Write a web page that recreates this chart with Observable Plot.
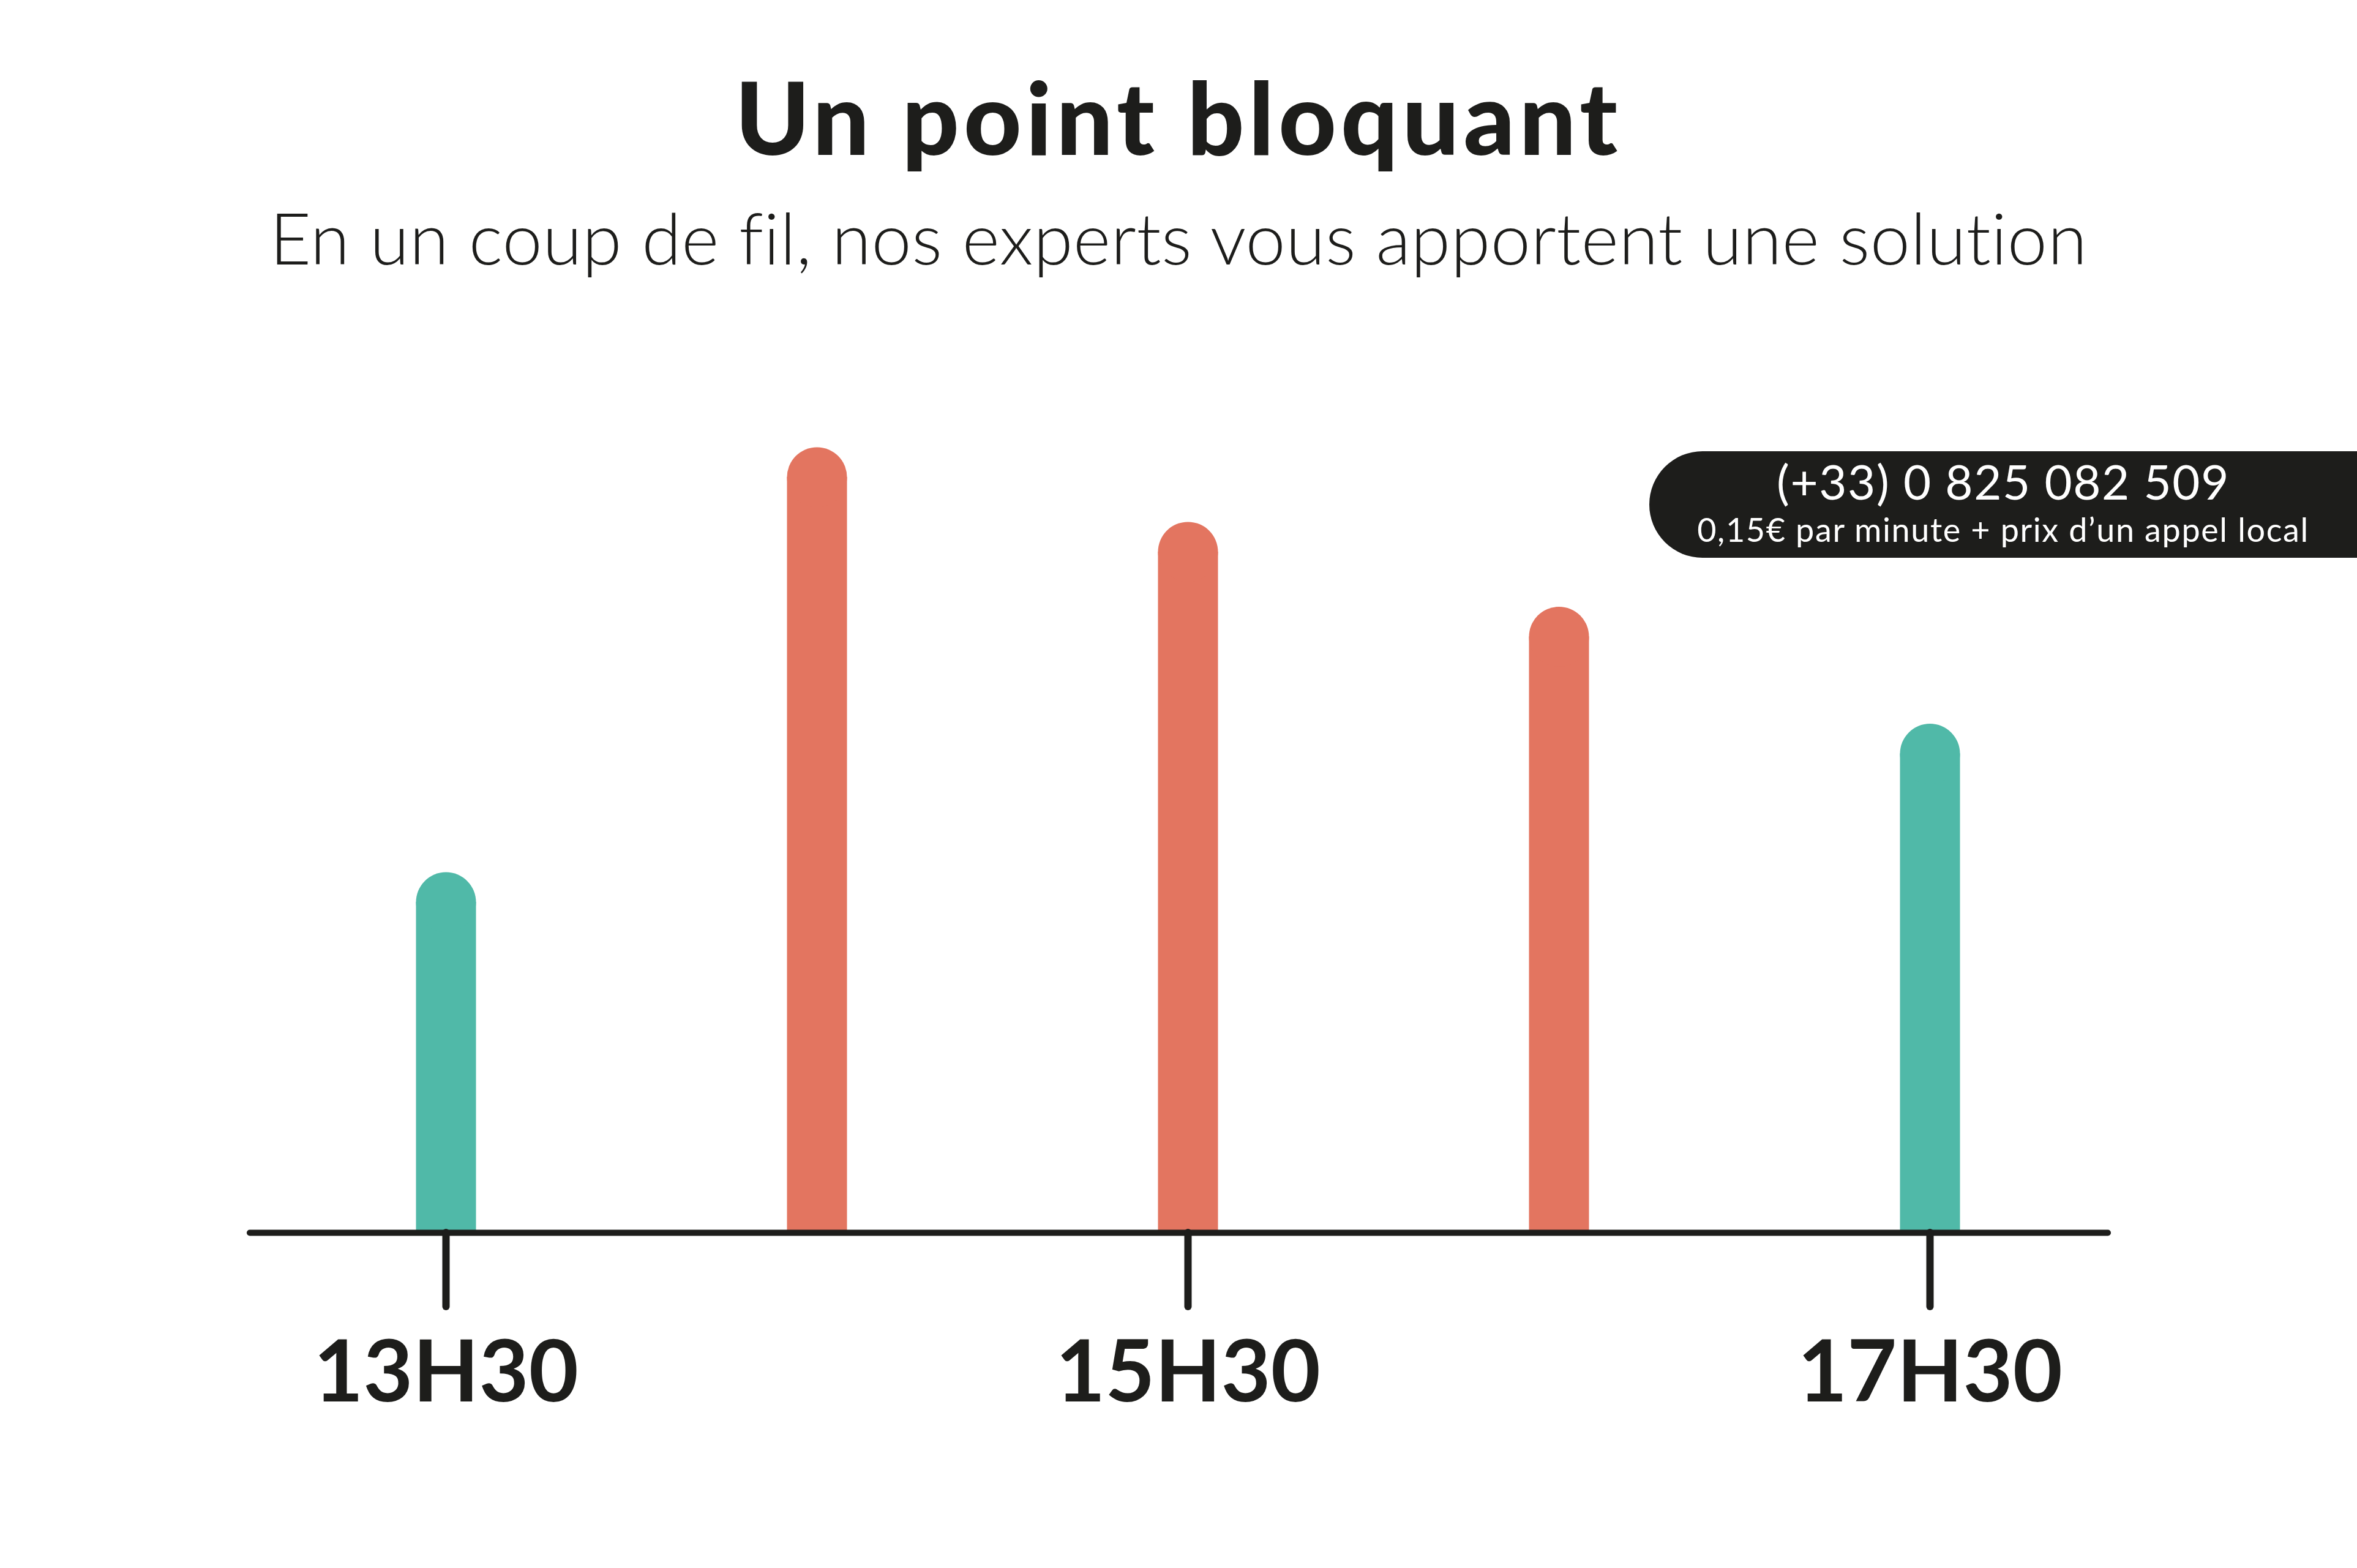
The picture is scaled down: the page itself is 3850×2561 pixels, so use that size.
<!DOCTYPE html>
<html>
<head>
<meta charset="utf-8">
<script src="https://cdn.jsdelivr.net/npm/d3@7"></script>
<script src="https://cdn.jsdelivr.net/npm/@observablehq/plot@0.6"></script>
<style>
  html, body { margin: 0; padding: 0; background: #ffffff; }
  body { width: 3850px; height: 2561px; position: relative; overflow: hidden; font-family: Lato, "Noto Sans", sans-serif; color: #1d1d1b; }
  #title { position: absolute; left: 0; width: 3850px; top: 108px; text-align: center; font-size: 164px; line-height: 164px; font-weight: 900; letter-spacing: 7px; white-space: nowrap; }
  #subtitle { position: absolute; left: 0; width: 3850px; top: 329px; text-align: center; font-size: 117px; line-height: 117px; font-weight: 300; letter-spacing: 0.5px; white-space: nowrap; }
  #chart { position: absolute; left: 0; top: 500px; }
  #pill { position: absolute; left: 2694px; top: 737px; width: 1200px; height: 174px; background: #1d1d1b; border-radius: 87px 0 0 87px; color: #ffffff; text-align: center; }
  #pill .l1 { position: absolute; left: 0; width: 1156px; top: 10px; font-size: 78px; line-height: 78px; font-weight: 400; letter-spacing: 1.6px; white-space: nowrap; }
  #pill .l2 { position: absolute; left: 0; width: 1156px; top: 101px; font-size: 54px; line-height: 54px; font-weight: 400; letter-spacing: 1.6px; white-space: nowrap; }
</style>
</head>
<body>
<div id="title">Un point bloquant</div>
<div id="subtitle">En un coup de fil, nos experts vous apportent une solution</div>
<div id="chart"></div>
<div id="pill"><div class="l1">(+33) 0 825 082 509</div><div class="l2">0,15€ par minute + prix d’un appel local</div></div>
<script>
// Data
const hours = ["13H30", "14H30", "15H30", "16H30", "17H30"];
const calls = [45.9, 100, 90.5, 79.7, 64.8];
const periods = ["creuse", "pleine", "pleine", "pleine", "creuse"];
const periodDomain = ["creuse", "pleine"];
const periodColors = ["#50b9a8", "#e37560"];
const tickLabels = ["13H30", "15H30", "17H30"];

const data = hours.map((h, i) => ({hour: h, calls: calls[i], period: periods[i]}));

const chart = Plot.plot({
  width: 3850,
  height: 2061,
  marginLeft: 408,
  marginRight: 407,
  marginTop: 230,
  marginBottom: 548,
  style: {background: "transparent", color: "#1d1d1b", fontFamily: "Lato, 'Noto Sans', sans-serif"},
  x: {type: "point", domain: hours, padding: 0, insetLeft: 319, insetRight: 290, label: null},
  y: {domain: [0, 100], axis: null},
  color: {domain: periodDomain, range: periodColors},
  marks: [
    Plot.ruleX(data, {x: "hour", y1: "calls", y2: 0, stroke: "period", strokeWidth: 98, insetTop: 49}),
    Plot.dot(data, {x: "hour", y: "calls", r: 49, fill: "period", dy: 49}),
    Plot.ruleY([0], {stroke: "#1d1d1b", strokeWidth: 10, strokeLinecap: "round"}),
    Plot.axisX({ticks: tickLabels, tickSize: 121, tickPadding: 55, strokeWidth: 12, strokeLinecap: "round", fontSize: 140, fontWeight: 700, label: null, letterSpacing: 2})
  ]
});
document.getElementById("chart").appendChild(chart);
</script>
</body>
</html>
